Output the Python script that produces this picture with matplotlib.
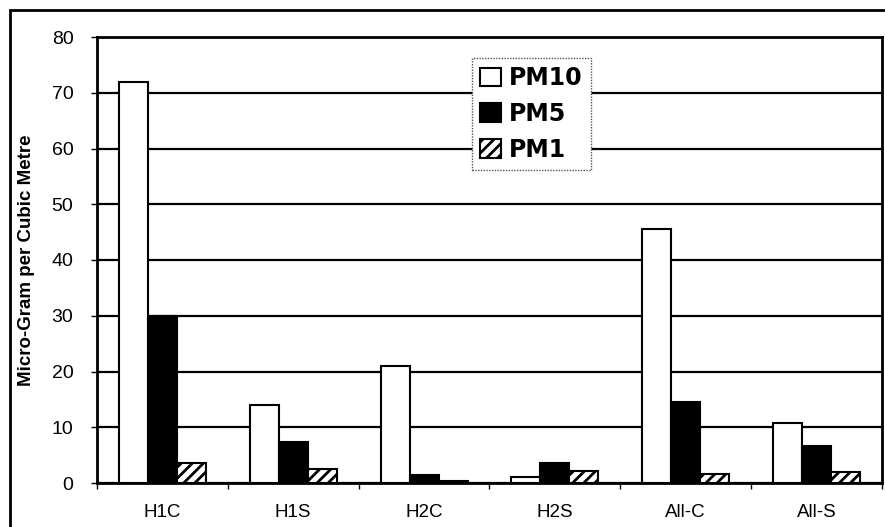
import matplotlib
matplotlib.use("Agg")
import matplotlib.pyplot as plt
import numpy as np
from matplotlib.patches import Rectangle

categories = ["H1C", "H1S", "H2C", "H2S", "All-C", "All-S"]
pm10 = [72.0, 14.0, 21.0, 1.0, 45.5, 10.8]
pm5 = [30.0, 7.4, 1.4, 3.5, 14.5, 6.7]
pm1 = [3.6, 2.5, 0.4, 2.2, 1.6, 2.0]
yticks = [0, 10, 20, 30, 40, 50, 60, 70, 80]

plt.rcParams['font.family'] = ['Liberation Sans', 'DejaVu Sans']
plt.rcParams['hatch.linewidth'] = 2.0

W, H = 885, 527
fig = plt.figure(figsize=(W / 100, H / 100), dpi=100)
fig.patch.set_facecolor('white')

ax_l, ax_r, ax_t, ax_b = 97, 882, 37, 483
ax = fig.add_axes([ax_l / W, 1 - ax_b / H, (ax_r - ax_l) / W, (ax_b - ax_t) / H])

x = np.arange(len(categories))
bw = 0.222
ax.bar(x - bw, pm10, bw, color='white', edgecolor='black', linewidth=1.5, label='PM10', zorder=3)
ax.bar(x, pm5, bw, color='black', edgecolor='black', linewidth=1.5, label='PM5', zorder=3)
ax.bar(x + bw, pm1, bw, color='white', edgecolor='black', linewidth=1.5, hatch='///', label='PM1', zorder=3)

ax.set_xlim(-0.5, len(categories) - 0.5)
ax.set_ylim(0, 80)
ax.set_yticks(yticks)
ax.set_yticklabels([str(v) for v in yticks], fontsize=14)
ax.yaxis.grid(True, color='black', linewidth=1.6, zorder=0)
ax.set_axisbelow(True)

ax.set_xticks(x)
ax.set_xticklabels(categories, fontsize=13.5)
ax.tick_params(axis='x', which='major', length=0, pad=15)
ax.set_xticks(np.arange(-0.5, len(categories)), minor=True)
ax.tick_params(axis='x', which='minor', length=4, width=1, direction='out')
ax.tick_params(axis='y', length=4, width=1, direction='out', pad=13)

for s in ax.spines.values():
    s.set_linewidth(2)
    s.set_color('black')

ax.set_ylabel('Micro-Gram per Cubic Metre', fontsize=13.5, fontweight='bold', labelpad=12)

leg = ax.legend(loc='upper left', bbox_to_anchor=(0.478, 0.953),
                prop={'family': 'DejaVu Sans', 'weight': 'bold', 'size': 17},
                frameon=True, fancybox=False, edgecolor='#555555', framealpha=1,
                handlelength=0.85, handleheight=0.85, handletextpad=0.35,
                borderpad=0.35, labelspacing=0.5, borderaxespad=0)
leg.get_frame().set_linewidth(1.0)
leg.get_frame().set_linestyle((0, (1, 1)))
leg.set_zorder(5)

# outer figure border
fig.add_artist(Rectangle((10 / W, -0.05), 1.0, 1 - 10 / H + 0.05, transform=fig.transFigure,
                         fill=False, edgecolor='black', linewidth=2))

fig.savefig('out.png', dpi=100, facecolor='white')
